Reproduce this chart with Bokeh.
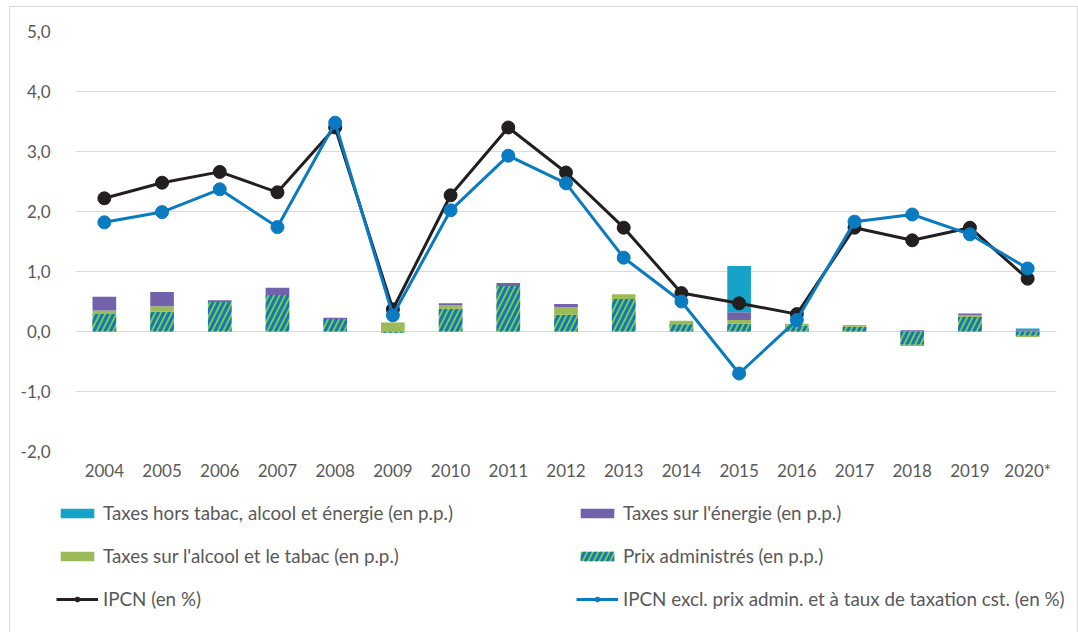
from bokeh.plotting import figure
from bokeh.models import ColumnDataSource, Range1d, Legend, LegendItem, FixedTicker
from bokeh.layouts import column
from bokeh.embed import file_html
from bokeh.resources import INLINE

years = ["2004", "2005", "2006", "2007", "2008", "2009", "2010", "2011", "2012",
         "2013", "2014", "2015", "2016", "2017", "2018", "2019", "2020*"]
prix_admin = [0.29, 0.33, 0.49, 0.61, 0.21, -0.02, 0.38, 0.76, 0.28, 0.54, 0.12, 0.13, 0.10, 0.08, -0.22, 0.24, -0.07]
taxes_alcool = [0.06, 0.09, 0.0, 0.0, 0.0, 0.15, 0.06, 0.0, 0.13, 0.08, 0.06, 0.06, 0.03, 0.03, -0.02, 0.03, -0.02]
taxes_energie = [0.23, 0.24, 0.03, 0.12, 0.02, 0.0, 0.03, 0.05, 0.05, 0.0, 0.0, 0.13, 0.0, 0.0, 0.02, 0.03, 0.02]
taxes_hors = [0.0, 0.0, 0.0, 0.0, 0.0, 0.0, 0.0, 0.0, 0.0, 0.0, 0.0, 0.77, 0.0, 0.0, 0.0, 0.0, 0.03]
ipcn = [2.22, 2.48, 2.66, 2.32, 3.40, 0.37, 2.27, 3.40, 2.65, 1.73, 0.64, 0.47, 0.29, 1.73, 1.52, 1.73, 0.88]
ipcn_excl = [1.82, 1.99, 2.37, 1.74, 3.48, 0.27, 2.02, 2.93, 2.47, 1.23, 0.50, -0.70, 0.19, 1.83, 1.95, 1.62, 1.05]
y_ticks = [-2, -1, 0, 1, 2, 3, 4, 5]

labels = ["Taxes hors tabac, alcool et énergie (en p.p.)",
          "Taxes sur l'énergie (en p.p.)",
          "Taxes sur l'alcool et le tabac (en p.p.)",
          "Prix administrés (en p.p.)",
          "IPCN (en %)",
          "IPCN excl. prix admin. et à taux de taxation cst. (en %)"]

FONT = "Lato"
TXT = "#595959"
W = 0.41

sty_pa = dict(fill_color="#8DC63F", line_color=None, hatch_pattern="/",
              hatch_color="#0A7BC1", hatch_scale=11, hatch_weight=3)
sty_al = dict(fill_color="#9BBB59", line_color=None)
sty_en = dict(fill_color="#7262AC", line_color=None)
sty_ho = dict(fill_color="#15A3C7", line_color=None)
BLACK = "#231F20"
BLUE = "#0A7BC1"

p = figure(x_range=years, y_range=Range1d(-2, 5), width=1067, height=484,
           output_backend="svg", toolbar_location=None,
           min_border_left=65, min_border_right=21, min_border_top=24, min_border_bottom=40)
p.outline_line_color = None
p.xgrid.grid_line_color = None
p.ygrid.grid_line_color = "#D9D9D9"
p.ygrid.grid_line_width = 1

p.yaxis.ticker = FixedTicker(ticks=y_ticks)
p.yaxis.major_label_overrides = {t: f"{t:.1f}".replace(".", ",") for t in y_ticks}
for ax in (p.xaxis, p.yaxis):
    ax.axis_line_color = None
    ax.major_tick_line_color = None
    ax.minor_tick_line_color = None
    ax.major_label_text_font = FONT
    ax.major_label_text_font_size = "17px"
    ax.major_label_text_color = TXT
p.yaxis.major_label_standoff = 19
p.xaxis.major_label_standoff = 2

# stacked bars with separate positive / negative stacks
series = [prix_admin, taxes_alcool, taxes_energie, taxes_hors]
pos = [0.0] * len(years)
neg = [0.0] * len(years)
sources = []
for s in series:
    b, t = [], []
    for i, v in enumerate(s):
        if v >= 0:
            b.append(pos[i]); t.append(pos[i] + v); pos[i] += v
        else:
            b.append(neg[i]); t.append(neg[i] + v); neg[i] += v
    sources.append(ColumnDataSource(dict(x=years, bottom=b, top=t)))
src_pa, src_al, src_en, src_ho = sources

for src, sty in zip(sources, [sty_pa, sty_al, sty_en, sty_ho]):
    p.vbar(x="x", bottom="bottom", top="top", width=W, source=src, **sty)

src_l = ColumnDataSource(dict(x=years, ipcn=ipcn, excl=ipcn_excl))
p.line(x="x", y="ipcn", source=src_l, line_color=BLACK, line_width=3)
p.scatter(x="x", y="ipcn", source=src_l, size=13, fill_color=BLACK, line_color=BLACK)
p.line(x="x", y="excl", source=src_l, line_color=BLUE, line_width=3)
p.scatter(x="x", y="excl", source=src_l, size=13, fill_color=BLUE, line_color=BLUE)

# legend panel below the chart (its renderers lie outside its visible range)
p2 = figure(x_range=years, y_range=Range1d(100, 101), frame_width=1067, frame_height=141,
            output_backend="svg", toolbar_location=None,
            x_axis_location=None, y_axis_location=None,
            min_border_left=0, min_border_right=0, min_border_top=0, min_border_bottom=0)
p2.grid.visible = False
p2.outline_line_color = None
l_ho = p2.vbar(x="x", top="top", bottom="bottom", width=W, source=src_ho, **sty_ho)
l_en = p2.vbar(x="x", top="top", bottom="bottom", width=W, source=src_en, **sty_en)
l_al = p2.vbar(x="x", top="top", bottom="bottom", width=W, source=src_al, **sty_al)
l_pa = p2.vbar(x="x", top="top", bottom="bottom", width=W, source=src_pa, **sty_pa)
l_bl = p2.line(x="x", y="ipcn", source=src_l, line_color=BLACK, line_width=3)
l_bm = p2.scatter(x="x", y="ipcn", source=src_l, size=13, fill_color=BLACK, line_color=BLACK)
l_ul = p2.line(x="x", y="excl", source=src_l, line_color=BLUE, line_width=3)
l_um = p2.scatter(x="x", y="excl", source=src_l, size=13, fill_color=BLUE, line_color=BLUE)

# items listed column by column so that rows read: cyan/purple, green/hatched, black/blue
items = [LegendItem(label=labels[0], renderers=[l_ho]),
         LegendItem(label=labels[2], renderers=[l_al]),
         LegendItem(label=labels[4], renderers=[l_bl, l_bm]),
         LegendItem(label=labels[1], renderers=[l_en]),
         LegendItem(label=labels[3], renderers=[l_pa]),
         LegendItem(label=labels[5], renderers=[l_ul, l_um])]
legend = Legend(items=items, ncols=2, location=(46, 22), padding=0, margin=0,
                border_line_color=None, background_fill_alpha=0,
                glyph_width=42, glyph_height=12, label_height=20, label_standoff=5,
                label_width=453, spacing=20,
                label_text_font=FONT, label_text_font_size="18.8px", label_text_color=TXT)
p2.add_layout(legend, "center")

layout = column(p, p2, spacing=0,
                styles={"margin-left": "9px", "margin-top": "6px", "border": "1px solid #D9D9D9"})
open("out.html", "w").write(file_html(layout, INLINE))
